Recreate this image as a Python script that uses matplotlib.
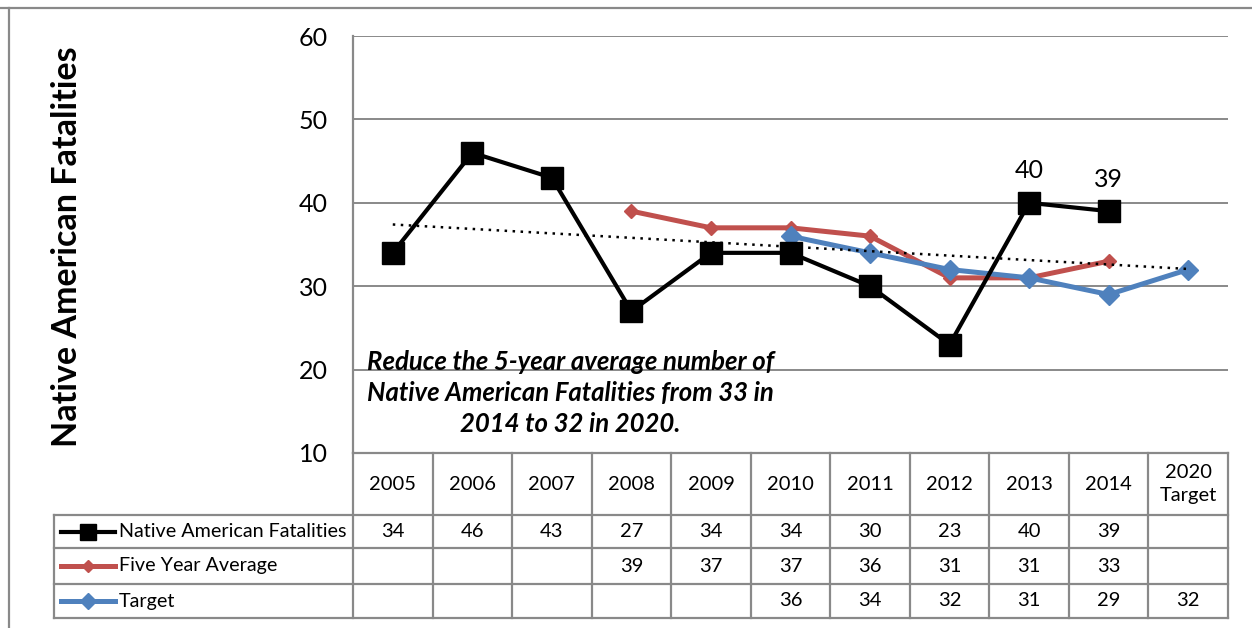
import numpy as np
import matplotlib
matplotlib.use("Agg")
from matplotlib import pyplot as plt
from matplotlib.lines import Line2D
from matplotlib import transforms

plt.rcParams['font.family'] = ['Lato', 'DejaVu Sans']

categories = ["2005", "2006", "2007", "2008", "2009", "2010",
              "2011", "2012", "2013", "2014", "2020\nTarget"]
fatalities = [34, 46, 43, 27, 34, 34, 30, 23, 40, 39, None]
five_year_avg = [None, None, None, 39, 37, 37, 36, 31, 31, 33, None]
target = [None, None, None, None, None, 36, 34, 32, 31, 29, 32]

series_names = ["Native American Fatalities", "Five Year Average", "Target"]
black = "#000000"
red = "#C0504D"
blue = "#4F81BD"
grid_gray = "#898989"

W, H = 1252, 628
fig = plt.figure(figsize=(W / 100, H / 100), dpi=100)

left, right, top, bottom = 353, 1228, 36, 453
ax = fig.add_axes([left / W, 1 - bottom / H, (right - left) / W, (bottom - top) / H])

x = np.arange(len(categories))


def to_arr(vals):
    return np.array([np.nan if v is None else v for v in vals], dtype=float)


y1 = to_arr(fatalities)
y2 = to_arr(five_year_avg)
y3 = to_arr(target)

ax.plot(x, y2, color=red, lw=3.6, marker="D", ms=7, zorder=3)
ax.plot(x, y3, color=blue, lw=3.6, marker="D", ms=10, zorder=4)
ax.plot(x, y1, color=black, lw=3, marker="s", ms=16, zorder=5)

# linear trendline of fatalities, forecast one period forward
mask = ~np.isnan(y1)
coef = np.polyfit(x[mask], y1[mask], 1)
ax.plot(x, np.polyval(coef, x), color=black, lw=1.8, ls=(0, (1, 2.2)), zorder=6)

for i in [8, 9]:
    ax.annotate(f"{fatalities[i]:g}", (x[i], y1[i]), xytext=(0, 23),
                textcoords="offset points", ha="center", va="center", fontsize=18)

ax.text(2.23, 17.2, "Reduce the 5-year average number of\nNative American Fatalities from 33 in\n2014 to 32 in 2020.",
        ha="center", va="center", fontsize=18.5, fontweight="bold", fontstyle="italic",
        linespacing=1.35, zorder=7)

ax.set_xlim(-0.5, len(categories) - 0.5)
ax.set_ylim(10, 60)
ax.set_yticks([10, 20, 30, 40, 50, 60])
ax.tick_params(axis="y", length=0, pad=18, labelsize=18)
ax.set_xticks([])
ax.yaxis.grid(True, color=grid_gray, lw=1.4)
ax.set_axisbelow(True)
for s in ["top", "right", "bottom"]:
    ax.spines[s].set_visible(False)
ax.spines["left"].set_color(grid_gray)
ax.spines["left"].set_linewidth(1.6)

fig.text(67 / W, 1 - 247 / H, "Native American Fatalities", rotation=90,
         ha="center", va="center", fontsize=24.5, fontweight="bold")

# data table under the chart
trans = transforms.blended_transform_factory(ax.transData, fig.transFigure)


def fy(py):
    return 1 - py / H


row_lines = [515, 548, 584, 618]
for b in np.arange(-0.5, len(categories), 1.0):
    fig.add_artist(Line2D([b, b], [fy(bottom), fy(618)], transform=trans,
                          color=grid_gray, lw=1.6))
for py in row_lines:
    fig.add_artist(Line2D([54 / W, right / W], [fy(py), fy(py)],
                          transform=fig.transFigure, color=grid_gray, lw=1.6))
fig.add_artist(Line2D([left / W, right / W], [fy(bottom), fy(bottom)],
                      transform=fig.transFigure, color=grid_gray, lw=1.6))
fig.add_artist(Line2D([54 / W, 54 / W], [fy(515), fy(618)],
                      transform=fig.transFigure, color=grid_gray, lw=1.6))

for i, c in enumerate(categories):
    fig.text(x[i], fy((bottom + 515) / 2), c, transform=trans, ha="center",
             va="center", fontsize=14.5, linespacing=1.4)

rows = [fatalities, five_year_avg, target]
styles = [(black, "s", 11, 3), (red, "D", 6, 3.6), (blue, "D", 8, 3.6)]
for r, (vals, name, st) in enumerate(zip(rows, series_names, styles)):
    cy = fy((row_lines[r] + row_lines[r + 1]) / 2)
    for i, v in enumerate(vals):
        if v is not None:
            fig.text(x[i], cy, f"{v:g}", transform=trans, ha="center",
                     va="center", fontsize=14.5)
    col, mk, ms, lw = st
    fig.add_artist(Line2D([61 / W, 115 / W], [cy, cy], transform=fig.transFigure,
                          color=col, lw=lw))
    fig.add_artist(Line2D([88 / W], [cy], transform=fig.transFigure, color=col,
                          marker=mk, ms=ms, lw=0))
    fig.text(119 / W, cy, name, ha="left", va="center", fontsize=14.2)

# outer chart border
fig.add_artist(Line2D([0, 1], [fy(7.5), fy(7.5)], transform=fig.transFigure,
                      color=grid_gray, lw=1.6))
fig.add_artist(Line2D([9 / W, 9 / W], [0, fy(7.5)], transform=fig.transFigure,
                      color=grid_gray, lw=1.6))

plt.savefig("out.png", dpi=100)
plt.close()
